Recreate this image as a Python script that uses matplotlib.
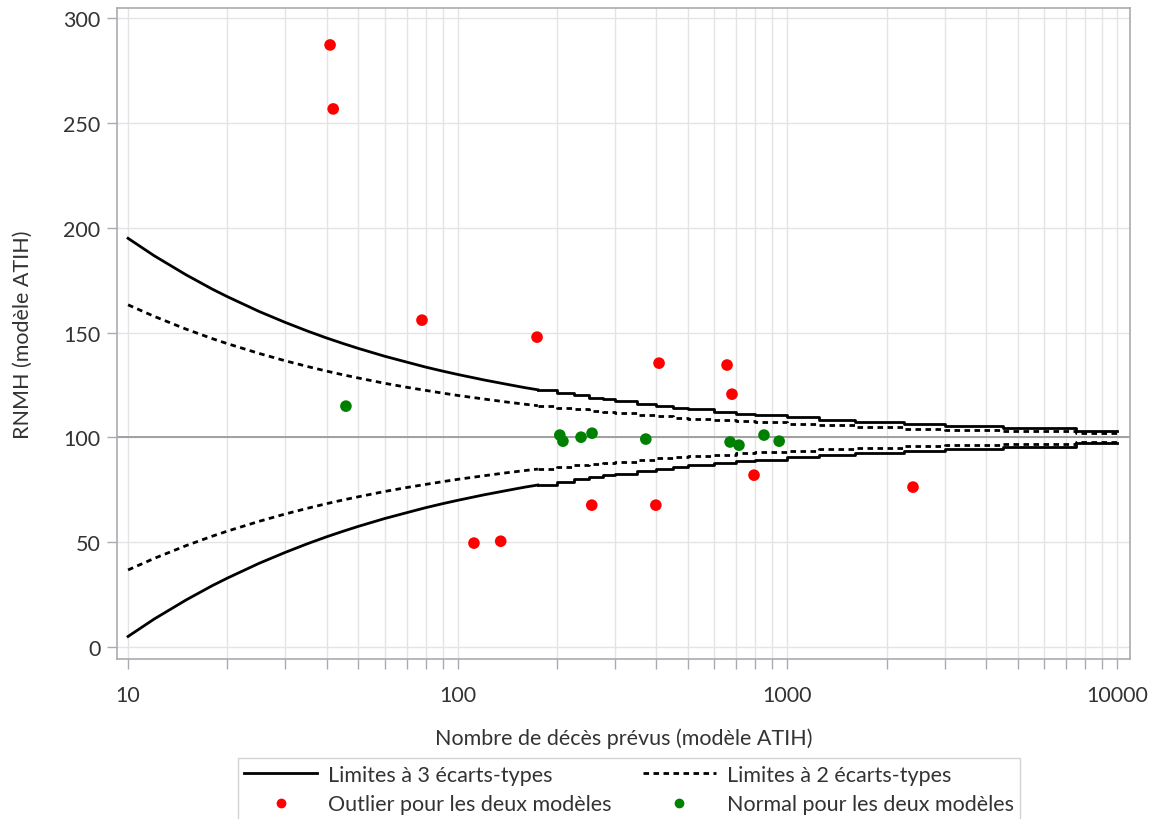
import matplotlib
matplotlib.use("Agg")
import matplotlib.pyplot as plt
from matplotlib.lines import Line2D
from matplotlib.ticker import FixedLocator, LogLocator, NullFormatter

plt.rcParams["font.family"] = ["Lato", "DejaVu Sans"]

# --- data -----------------------------------------------------------------
# expected deaths / SMR, hospitals flagged outlier by both models
out_x = [41.0, 41.9, 77.9, 174, 408, 656, 679, 792, 2404, 255, 399, 112, 135]
out_y = [287.1, 256.6, 155.9, 147.8, 135.4, 134.5, 120.6, 82.0, 76.3,
         67.7, 67.7, 49.6, 50.5]

# hospitals normal for both models
norm_x = [45.8, 204, 208.5, 236.6, 255.5, 372, 670, 713, 849, 944]
norm_y = [114.9, 101.1, 98.2, 100.1, 102.0, 99.2, 97.8, 96.3, 101.1, 98.2]

# control limits, smooth part (low expected counts)
lim_x = [10, 12, 15, 18, 20, 25, 30, 35, 40, 45, 50, 60, 70, 80, 90, 100,
         120, 140, 160, 175]
up3 = [194.9, 186.6, 177.5, 170.7, 167.1, 160.0, 154.8, 150.7, 147.4, 144.7,
       142.4, 138.7, 135.9, 133.5, 131.6, 130.0, 127.4, 125.4, 123.7, 122.7]
lo3 = [5.1, 13.4, 22.5, 29.3, 32.9, 40.0, 45.2, 49.3, 52.6, 55.3, 57.6, 61.3,
       64.1, 66.5, 68.4, 70.0, 72.6, 74.6, 76.3, 77.3]
up2 = [163.2, 157.7, 151.6, 147.1, 144.7, 140.0, 136.5, 133.8, 131.6, 129.8,
       128.3, 125.8, 123.9, 122.4, 121.1, 120.0, 118.3, 116.9, 115.8, 115.1]
lo2 = [36.8, 42.3, 48.4, 52.9, 55.3, 60.0, 63.5, 66.2, 68.4, 70.2, 71.7, 74.2,
       76.1, 77.6, 78.9, 80.0, 81.7, 83.1, 84.2, 84.9]

# control limits, stepped part (high expected counts)
step_x = [175, 200, 225, 250, 275, 300, 350, 400, 450, 500, 600, 700, 800,
          1000, 1250, 1600, 2250, 3000, 4500, 7500, 10000]
up3_s = [122.7, 121.2, 120.0, 119.0, 118.1, 117.3, 116.0, 115.0, 114.1, 113.4,
         112.2, 111.3, 110.6, 109.5, 108.5, 107.5, 106.3, 105.5, 104.5, 102.9,
         102.9]
lo3_s = [77.3, 78.8, 80.0, 81.0, 81.9, 82.7, 84.0, 85.0, 85.9, 86.6, 87.8,
         88.7, 89.4, 90.5, 91.5, 92.5, 93.7, 94.5, 95.5, 97.1, 97.1]
up2_s = [115.1, 114.1, 113.3, 112.6, 112.1, 111.5, 110.7, 110.0, 109.4, 108.9,
         108.2, 107.6, 107.1, 106.3, 105.7, 105.0, 104.2, 103.7, 103.0, 102.0,
         102.0]
lo2_s = [84.9, 85.9, 86.7, 87.4, 87.9, 88.5, 89.3, 90.0, 90.6, 91.1, 91.8,
         92.4, 92.9, 93.7, 94.3, 95.0, 95.8, 96.3, 97.0, 98.0, 98.0]

x_ticks = [10, 100, 1000, 10000]
y_ticks = [0, 50, 100, 150, 200, 250, 300]

# --- figure ---------------------------------------------------------------
fig = plt.figure(figsize=(11.51, 8.20), dpi=100)
ax = fig.add_axes([0.1017, 0.195, 0.88, 0.794])

grid_c = "#e4e4e4"
spine_c = "#a8abb0"
text_c = "#333333"
fs = 15.5

ax.set_xscale("log")
ax.set_xlim(9.26, 10940)
ax.set_ylim(-5.7, 304.7)

ax.xaxis.set_major_locator(FixedLocator(x_ticks))
ax.xaxis.set_minor_locator(LogLocator(base=10, subs=range(2, 10)))
ax.xaxis.set_minor_formatter(NullFormatter())
ax.set_xticklabels([str(t) for t in x_ticks])
ax.set_yticks(y_ticks)

ax.grid(True, which="major", color=grid_c, linewidth=1.0, zorder=0)
ax.grid(True, which="minor", axis="x", color=grid_c, linewidth=1.0, zorder=0)
ax.set_axisbelow(True)
ax.axhline(100, color="#a0a0a0", linewidth=1.4, zorder=1)

for s in ax.spines.values():
    s.set_color(spine_c)
    s.set_linewidth(1.2)

ax.tick_params(axis="both", which="both", direction="out", color=spine_c,
               length=7, width=1.0, labelsize=fs, labelcolor=text_c)
ax.tick_params(axis="x", which="both", pad=12)
ax.tick_params(axis="y", which="both", pad=5)

lw3, lw2 = 2.0, 2.0
ax.plot(lim_x, up3, color="black", lw=lw3, zorder=3)
ax.plot(lim_x, lo3, color="black", lw=lw3, zorder=3)
ax.plot(step_x, up3_s, color="black", lw=lw3, drawstyle="steps-post", zorder=3)
ax.plot(step_x, lo3_s, color="black", lw=lw3, drawstyle="steps-post", zorder=3)
dash = (0, (2.0, 1.6))
ax.plot(lim_x, up2, color="black", lw=lw2, ls=dash, zorder=3)
ax.plot(lim_x, lo2, color="black", lw=lw2, ls=dash, zorder=3)
ax.plot(step_x, up2_s, color="black", lw=lw2, ls=dash,
        drawstyle="steps-post", zorder=3)
ax.plot(step_x, lo2_s, color="black", lw=lw2, ls=dash,
        drawstyle="steps-post", zorder=3)

ax.scatter(out_x, out_y, s=70, color="#ff0000", edgecolors="none", zorder=4)
ax.scatter(norm_x, norm_y, s=70, color="#008000", edgecolors="none", zorder=4)

ax.set_xlabel("Nombre de décès prévus (modèle ATIH)", fontsize=fs,
              labelpad=16, color=text_c)
ax.set_ylabel("RNMH (modèle ATIH)", fontsize=fs, labelpad=22,
              color=text_c)

handles = [
    Line2D([], [], color="black", lw=2.0),
    Line2D([], [], ls="none", marker="o", color="#ff0000", ms=6),
    Line2D([], [], color="black", lw=2.0, ls=dash),
    Line2D([], [], ls="none", marker="o", color="#008000", ms=6),
]
labels = ["Limites à 3 écarts-types", "Outlier pour les deux modèles",
          "Limites à 2 écarts-types", "Normal pour les deux modèles"]
leg = fig.legend(handles, labels, ncol=2, loc="upper center",
                 bbox_to_anchor=(0.5465, 0.074), borderaxespad=0,
                 fontsize=fs, frameon=True, fancybox=False,
                 handlelength=3.4, columnspacing=1.45, labelspacing=0.45,
                 borderpad=0.3, handletextpad=0.5, labelcolor=text_c)
leg.get_frame().set_edgecolor("#c8c8c8")
leg.get_frame().set_linewidth(1.0)

fig.savefig("out.png", dpi=100)
